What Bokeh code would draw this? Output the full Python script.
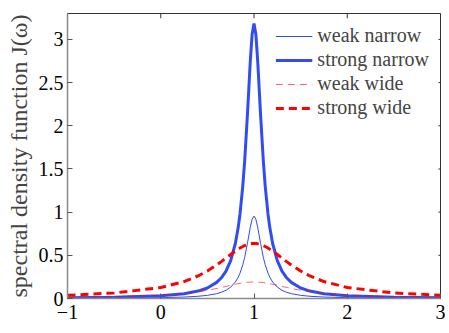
from bokeh.plotting import figure
from bokeh.models import Range1d, Legend, LegendItem, Label, FixedTicker
from bokeh.embed import file_html
from bokeh.resources import INLINE

omega = [-1, -0.5, 0, 0.25, 0.4, 0.5, 0.6, 0.65, 0.7, 0.75, 0.8, 0.83, 0.85, 0.88, 0.9, 0.93, 0.96, 0.98,
         1.0, 1.02, 1.04, 1.07, 1.1, 1.12, 1.15, 1.17, 1.2, 1.25, 1.3, 1.35, 1.4, 1.5, 1.6, 1.75, 2, 2.5, 3]

weak_narrow = [0.0024, 0.0042, 0.0095, 0.0167, 0.0258, 0.0367, 0.056, 0.072, 0.0955, 0.132, 0.191, 0.245,
               0.294, 0.391, 0.477, 0.641, 0.823, 0.918, 0.955, 0.918, 0.823, 0.641, 0.477, 0.391, 0.294,
               0.245, 0.191, 0.132, 0.0955, 0.072, 0.056, 0.0367, 0.0258, 0.0167, 0.0095, 0.0042, 0.0024]

strong_narrow = [0.0079, 0.0141, 0.0315, 0.0556, 0.086, 0.122, 0.187, 0.240, 0.318, 0.439, 0.637, 0.818,
                 0.979, 1.305, 1.592, 2.136, 2.744, 3.061, 3.183, 3.061, 2.744, 2.136, 1.592, 1.305, 0.979,
                 0.818, 0.637, 0.439, 0.318, 0.240, 0.187, 0.122, 0.086, 0.0556, 0.0315, 0.0141, 0.0079]

weak_wide = [0.0112, 0.0191, 0.0382, 0.0588, 0.0783, 0.0955, 0.116, 0.128, 0.140, 0.153, 0.165, 0.171,
             0.175, 0.181, 0.184, 0.187, 0.190, 0.191, 0.191, 0.191, 0.190, 0.187, 0.184, 0.181, 0.175,
             0.171, 0.165, 0.153, 0.140, 0.128, 0.116, 0.0955, 0.0783, 0.0588, 0.0382, 0.0191, 0.0112]

strong_wide = [0.0374, 0.0637, 0.127, 0.196, 0.261, 0.318, 0.388, 0.427, 0.468, 0.509, 0.549, 0.571,
               0.584, 0.602, 0.612, 0.624, 0.633, 0.636, 0.637, 0.636, 0.633, 0.624, 0.612, 0.602, 0.584,
               0.571, 0.549, 0.509, 0.468, 0.427, 0.388, 0.318, 0.261, 0.196, 0.127, 0.0637, 0.0374]

x_ticks = [-1, 0, 1, 2, 3]
y_ticks = [0, 0.5, 1, 1.5, 2, 2.5, 3]
x_min, x_max = -1, 3
y_min, y_max = 0, 3.3

FONT = "'Liberation Serif', 'DejaVu Serif', serif"
BLUE = "#2f4cf5"
RED = "#ff0000"

p = figure(width=449, height=333, output_backend="svg", toolbar_location=None,
           x_range=Range1d(x_min, x_max), y_range=Range1d(y_min, y_max),
           min_border_left=67, min_border_right=9, min_border_top=13, min_border_bottom=35)
p.xgrid.visible = False
p.ygrid.visible = False
p.outline_line_color = "#333333"
p.background_fill_color = "white"

r1 = p.line(omega, weak_narrow, line_color=BLUE, line_width=1)
r2 = p.line(omega, strong_narrow, line_color=BLUE, line_width=3)
r3 = p.line(omega, weak_wide, line_color=RED, line_width=1, line_dash="7 5", line_alpha=0.6)
r4 = p.line(omega, strong_wide, line_color=RED, line_width=3, line_dash="8 5")

# mirrored inward ticks on the top and right edges (MATLAB box style)
tick_len_y = 0.055
tick_len_x = 0.022
p.segment(x0=x_ticks, y0=[y_max] * len(x_ticks), x1=x_ticks, y1=[y_max - tick_len_y] * len(x_ticks),
          line_color="#333333", line_width=1)
p.segment(x0=[x_max] * len(y_ticks), y0=y_ticks, x1=[x_max - tick_len_x] * len(y_ticks), y1=y_ticks,
          line_color="#333333", line_width=1)

def style_axis(ax, ticks, standoff):
    ax.ticker = FixedTicker(ticks=ticks)
    ax.axis_line_color = "#8a8a8a"
    ax.axis_line_width = 1.5
    ax.major_tick_line_color = "#555555"
    ax.major_tick_in = 5
    ax.major_tick_out = 0
    ax.minor_tick_line_color = None
    ax.major_label_text_font = FONT
    ax.major_label_text_color = "black"
    ax.major_label_text_font_size = "20px"
    ax.major_label_standoff = standoff

xa = p.xaxis[0]
ya = p.yaxis[0]
style_axis(xa, x_ticks, 6)
style_axis(ya, y_ticks, 4)
xa.major_label_overrides = {-1: "\u22121"}
ya.axis_label = "spectral density function J(\u03c9)"
ya.axis_label_text_font = FONT
ya.axis_label_text_font_size = "24px"
ya.axis_label_text_font_style = "normal"
ya.axis_label_standoff = 4

xlab = Label(x=1, y=-0.265, text="bath mode frequency \u03c9", text_font=FONT, text_font_size="24px",
             text_align="center", text_baseline="top", text_color="black", level="overlay")
p.add_layout(xlab)

legend = Legend(items=[
    LegendItem(label="weak narrow", renderers=[r1]),
    LegendItem(label="strong narrow", renderers=[r2]),
    LegendItem(label="weak wide", renderers=[r3]),
    LegendItem(label="strong wide", renderers=[r4]),
], location="top_right")
legend.label_text_font = FONT
legend.label_text_font_size = "20px"
legend.border_line_color = None
legend.background_fill_alpha = 0
legend.glyph_width = 37
legend.glyph_height = 20
legend.label_height = 20
legend.label_standoff = 5
legend.spacing = 1
legend.padding = 8
legend.margin = 11
p.add_layout(legend)

open("out.html", "w").write(file_html(p, INLINE))
